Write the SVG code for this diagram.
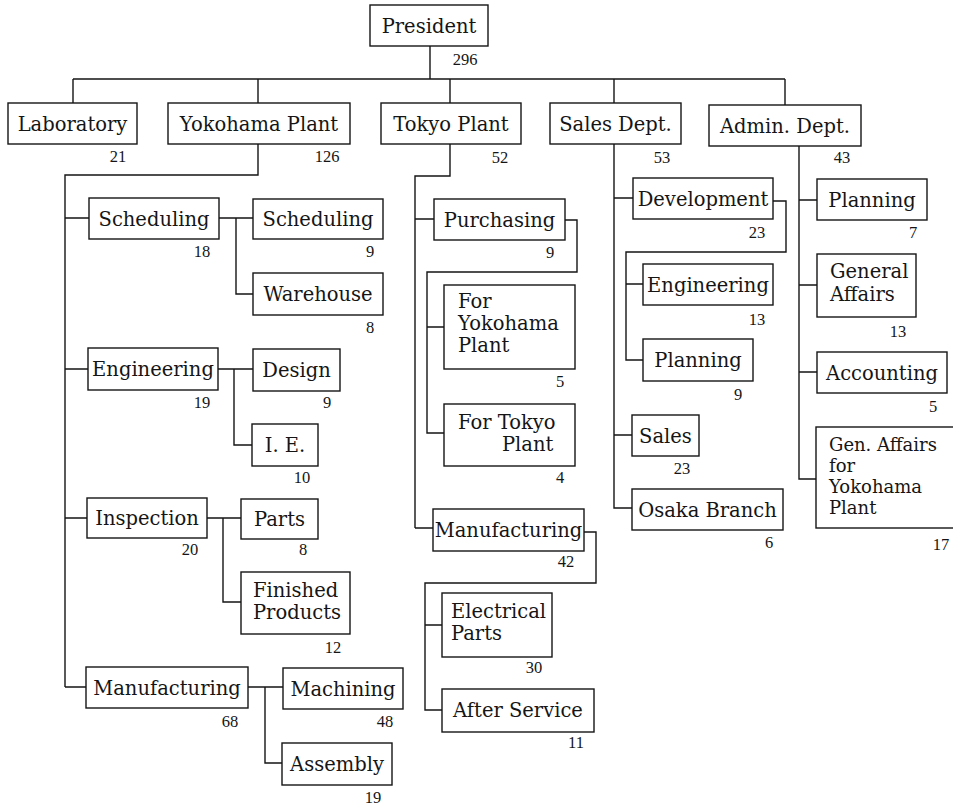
<svg xmlns="http://www.w3.org/2000/svg" width="953" height="807" viewBox="0 0 953 807">
<style>
rect{fill:#fff;stroke:#151515;stroke-width:1.4}
.c path{fill:none;stroke:#151515;stroke-width:1.4}
.t{font-family:"DejaVu Serif",serif;font-size:19.5px;fill:#151515}
.s{font-size:18px}
.m{text-anchor:middle}
.n{font-family:"Liberation Serif",serif;font-size:16.5px;fill:#151515;text-anchor:middle}
</style>
<rect x="0" y="0" width="953" height="807" style="stroke:none"/>
<g class="c" id="connectors">
<path d="M430 46V79M73 79H785M73 79V103M258 79V103M450 79V103M614 79V103M785 79V105"/>
<path d="M258 144V175H65V687M65 218H89M65 369H88M65 518H87M65 687H86"/>
<path d="M219 218H253M236 218V294H253M218 369H253M234 369V445H252M207 518H241M223 518V602H241M248 687H283M265 687V763H282"/>
<path d="M450 144V176H415V528M415 219H434M415 528H433"/>
<path d="M565 220H577V272H427V433H444M427 327H444"/>
<path d="M584 532H596V583H425V710H442M425 625H442"/>
<path d="M614 144V508H632M614 198H633M614 435H632"/>
<path d="M773 201H786V252H626V360H643M626 284H643"/>
<path d="M799 146V479H816M799 200H817M799 285H817M799 372H817"/>
</g>
<g id="president"><rect x="370" y="5" width="118" height="41"/><text class="t m" x="429" y="32.5">President</text><text class="n" x="465" y="65">296</text></g>
<g id="laboratory"><rect x="8" y="103" width="129" height="41"/><text class="t m" x="72.5" y="130.5">Laboratory</text><text class="n" x="118" y="162">21</text></g>
<g id="yokohama"><rect x="168" y="103" width="182" height="41"/><text class="t m" x="259" y="130.5">Yokohama Plant</text><text class="n" x="327" y="162">126</text></g>
<g id="tokyo"><rect x="381" y="103" width="140" height="41"/><text class="t m" x="451" y="130.5">Tokyo Plant</text><text class="n" x="500" y="163">52</text></g>
<g id="sales-dept"><rect x="550" y="103" width="131" height="41"/><text class="t m" x="615.5" y="130.5">Sales Dept.</text><text class="n" x="662" y="163">53</text></g>
<g id="admin-dept"><rect x="709" y="105" width="152" height="41"/><text class="t m" x="785" y="132.5">Admin. Dept.</text><text class="n" x="842" y="163">43</text></g>

<g id="y-scheduling"><rect x="89" y="198" width="130" height="41"/><text class="t m" x="154" y="225.5">Scheduling</text><text class="n" x="202" y="257">18</text></g>
<g id="y-scheduling2"><rect x="253" y="199" width="130" height="40"/><text class="t m" x="318" y="226">Scheduling</text><text class="n" x="370" y="257">9</text></g>
<g id="y-warehouse"><rect x="253" y="273" width="130" height="42"/><text class="t m" x="318" y="301">Warehouse</text><text class="n" x="370" y="333">8</text></g>
<g id="y-engineering"><rect x="88" y="348" width="130" height="42"/><text class="t m" x="153" y="376">Engineering</text><text class="n" x="202" y="408">19</text></g>
<g id="y-design"><rect x="253" y="349" width="87" height="42"/><text class="t m" x="296.5" y="377">Design</text><text class="n" x="327" y="408">9</text></g>
<g id="y-ie"><rect x="252" y="424" width="66" height="42"/><text class="t m" x="285" y="452">I. E.</text><text class="n" x="302" y="483">10</text></g>
<g id="y-inspection"><rect x="87" y="498" width="120" height="40"/><text class="t m" x="147" y="525">Inspection</text><text class="n" x="190" y="555">20</text></g>
<g id="y-parts"><rect x="241" y="499" width="77" height="40"/><text class="t m" x="279.5" y="526">Parts</text><text class="n" x="303" y="555">8</text></g>
<g id="y-finished"><rect x="241" y="572" width="109" height="62"/><text class="t" x="253" y="597">Finished</text><text class="t" x="253" y="619">Products</text><text class="n" x="333" y="653">12</text></g>
<g id="y-manufacturing"><rect x="86" y="667" width="162" height="41"/><text class="t m" x="167" y="694.5">Manufacturing</text><text class="n" x="230" y="727">68</text></g>
<g id="y-machining"><rect x="283" y="668" width="120" height="41"/><text class="t m" x="343" y="695.5">Machining</text><text class="n" x="385" y="727">48</text></g>
<g id="y-assembly"><rect x="282" y="743" width="110" height="42"/><text class="t m" x="337" y="771">Assembly</text><text class="n" x="373" y="803">19</text></g>

<g id="t-purchasing"><rect x="434" y="199" width="131" height="41"/><text class="t m" x="499.5" y="226.5">Purchasing</text><text class="n" x="550" y="258">9</text></g>
<g id="t-for-yokohama"><rect x="444" y="285" width="131" height="84"/><text class="t" x="458" y="308">For</text><text class="t" x="458" y="330">Yokohama</text><text class="t" x="458" y="352">Plant</text><text class="n" x="560" y="387">5</text></g>
<g id="t-for-tokyo"><rect x="444" y="404" width="131" height="62"/><text class="t" x="458" y="429">For Tokyo</text><text class="t" x="502" y="451">Plant</text><text class="n" x="560" y="483">4</text></g>
<g id="t-manufacturing"><rect x="433" y="509" width="151" height="42"/><text class="t m" x="508.5" y="537">Manufacturing</text><text class="n" x="566" y="567">42</text></g>
<g id="t-electrical"><rect x="442" y="593" width="110" height="64"/><text class="t" x="451" y="618">Electrical</text><text class="t" x="451" y="640">Parts</text><text class="n" x="534" y="673">30</text></g>
<g id="t-after-service"><rect x="442" y="689" width="152" height="43"/><text class="t m" x="518" y="717">After Service</text><text class="n" x="576" y="748">11</text></g>

<g id="s-development"><rect x="633" y="178" width="140" height="41"/><text class="t m" x="703" y="205.5">Development</text><text class="n" x="757" y="238">23</text></g>
<g id="s-engineering"><rect x="643" y="264" width="130" height="41"/><text class="t m" x="708" y="291.5">Engineering</text><text class="n" x="757" y="325">13</text></g>
<g id="s-planning"><rect x="643" y="339" width="110" height="42"/><text class="t m" x="698" y="367">Planning</text><text class="n" x="738" y="400">9</text></g>
<g id="s-sales"><rect x="632" y="415" width="67" height="41"/><text class="t m" x="665.5" y="442.5">Sales</text><text class="n" x="682" y="474">23</text></g>
<g id="s-osaka"><rect x="632" y="489" width="151" height="41"/><text class="t m" x="707.5" y="516.5">Osaka Branch</text><text class="n" x="769" y="548">6</text></g>

<g id="a-planning"><rect x="817" y="179" width="110" height="41"/><text class="t m" x="872" y="206.5">Planning</text><text class="n" x="913" y="238">7</text></g>
<g id="a-general"><rect x="817" y="254" width="99" height="63"/><text class="t" x="830" y="278">General</text><text class="t" x="830" y="301">Affairs</text><text class="n" x="898" y="337">13</text></g>
<g id="a-accounting"><rect x="817" y="352" width="130" height="41"/><text class="t m" x="882" y="379.5">Accounting</text><text class="n" x="933" y="412">5</text></g>
<g id="a-gen-yokohama"><rect x="816" y="427" width="150" height="101"/><text class="t s" x="829" y="451">Gen. Affairs</text><text class="t s" x="829" y="472">for</text><text class="t s" x="829" y="493">Yokohama</text><text class="t s" x="829" y="514">Plant</text><text class="n" x="941" y="550">17</text></g>
</svg>
